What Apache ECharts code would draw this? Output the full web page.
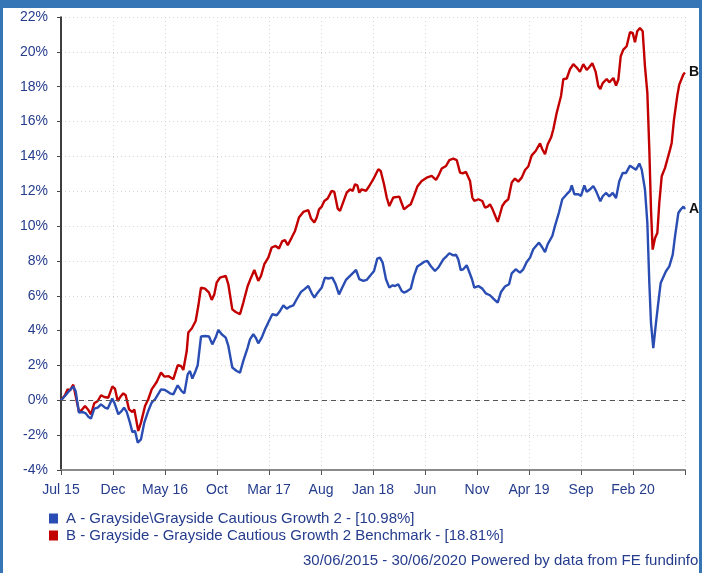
<!DOCTYPE html>
<html>
<head>
<meta charset="utf-8">
<script src="https://cdn.jsdelivr.net/npm/echarts@6/dist/echarts.min.js"></script>
<style>
  html, body { margin: 0; padding: 0; background: #ffffff; }
  #chart { width: 702px; height: 573px; }
</style>
</head>
<body>
<div id="chart"></div>
<script>
// Tick labels on the x axis (one every 5 months from Jul 2015)
const xTickLabels = ["Jul 15","Dec","May 16","Oct","Mar 17","Aug","Jan 18","Jun","Nov","Apr 19","Sep","Feb 20"];

// Series A: Grayside\Grayside Cautious Growth 2 (months since 30/06/2015, cumulative %)
const monthsA = [0,0.38,0.70,0.87,1.18,1.41,1.73,2.05,2.38,2.63,2.88,3.20,3.53,3.85,4.23,4.49,4.93,5.19,5.51,5.84,6.06,6.32,6.63,6.86,7.12,7.38,7.69,8.01,8.39,8.72,9.04,9.62,10.00,10.48,10.80,11.22,11.60,11.86,12.18,12.40,12.63,12.88,13.14,13.46,13.85,14.23,14.55,14.87,15.13,15.45,15.84,16.09,16.47,16.89,17.21,17.53,17.95,18.17,18.49,18.72,18.97,19.30,19.62,19.93,20.32,20.74,21.06,21.38,21.70,22.02,22.34,22.66,23.08,23.39,23.78,24.11,24.36,24.68,25.07,25.38,25.70,26.09,26.41,26.73,27.09,27.40,27.79,28.11,28.37,28.68,29.07,29.39,29.78,30.10,30.41,30.67,30.93,31.25,31.57,31.89,32.12,32.43,32.76,32.98,33.30,33.63,33.94,34.26,34.59,34.90,35.22,35.55,35.96,36.28,36.76,37.09,37.34,37.72,37.98,38.20,38.43,38.68,39.01,39.52,39.74,40.13,40.51,40.84,41.25,41.57,41.99,42.31,42.69,43.08,43.34,43.72,44.13,44.45,44.78,45.10,45.41,45.74,45.96,46.28,46.54,46.80,47.24,47.50,47.88,48.20,48.63,48.94,49.11,49.36,49.74,50.00,50.32,50.55,50.87,51.18,51.44,51.86,52.09,52.40,52.72,53.05,53.37,53.68,54.01,54.33,54.71,55.03,55.29,55.61,55.84,56.15,56.38,56.57,56.73,56.95,57.21,57.43,57.66,57.85,58.17,58.49,58.82,59.04,59.36,59.59,59.85,60];
const valuesA = [0,0.25,0.48,0.44,0.79,0.53,-0.71,-0.67,-0.75,-0.94,-1.05,-0.48,-0.42,-0.23,-0.42,-0.48,0.10,-0.23,-0.80,-0.61,-0.42,-0.67,-1.28,-1.82,-1.76,-2.43,-2.24,-1.28,-0.61,-0.13,0.06,0.63,0.59,0.40,0.34,0.86,0.53,0.40,1.49,1.68,1.25,1.59,2.01,3.66,3.69,3.66,3.21,3.60,4.04,3.79,3.60,3.12,1.88,1.68,1.59,2.26,3.03,3.50,3.79,3.60,3.27,3.60,4.08,4.46,4.94,4.88,5.13,5.45,5.26,5.38,5.45,5.80,6.22,6.37,6.56,6.14,5.90,6.18,6.47,7.04,6.99,7.04,6.66,6.08,6.53,6.91,7.14,7.33,7.48,6.95,6.85,6.91,7.19,7.42,8.13,8.19,7.90,6.95,6.47,6.60,6.56,6.66,6.27,6.18,6.27,6.41,7.14,7.68,7.81,7.94,8.00,7.71,7.42,7.62,8.09,8.28,8.44,8.32,8.36,8.09,7.48,7.52,7.75,6.95,6.47,6.56,6.41,6.14,6.03,5.84,5.61,6.22,6.53,6.66,7.29,7.52,7.33,7.52,7.94,8.19,8.67,8.90,9.05,8.77,8.51,8.96,9.43,10.01,10.78,11.54,11.83,12.02,12.34,11.83,11.83,11.73,12.34,11.96,12.11,12.30,12.02,11.42,11.71,11.90,11.71,11.90,11.61,12.57,13.05,13.05,13.47,13.34,13.24,13.59,13.24,12.10,10.18,6.73,4.44,3.00,4.44,5.59,6.73,6.83,7.41,7.69,8.36,9.41,10.75,10.95,11.12,10.98];

// Series B: Grayside Cautious Growth 2 Benchmark
const monthsB = [0,0.38,0.64,0.87,1.18,1.35,1.73,1.99,2.31,2.63,2.88,3.20,3.53,3.85,4.16,4.55,4.93,5.19,5.45,5.77,5.99,6.22,6.54,6.86,7.05,7.43,7.69,8.08,8.39,8.72,9.20,9.62,9.93,10.32,10.80,11.22,11.54,11.76,12.09,12.24,12.57,12.95,13.20,13.46,13.85,14.23,14.49,14.74,14.97,15.29,15.84,16.09,16.47,16.80,17.21,17.53,17.95,18.27,18.59,18.97,19.23,19.55,19.93,20.26,20.64,20.96,21.28,21.54,21.80,22.18,22.50,22.88,23.30,23.78,24.04,24.36,24.59,24.81,25.07,25.32,25.64,26.03,26.28,26.61,26.83,27.47,27.79,28.05,28.27,28.49,28.68,28.91,29.33,29.64,30.03,30.51,30.74,31.06,31.32,31.57,31.95,32.53,32.76,32.98,33.30,33.63,33.94,34.26,34.68,35.16,35.64,36.06,36.28,36.61,37.02,37.34,37.72,38.05,38.37,38.63,38.94,39.33,39.55,39.74,40.13,40.51,40.77,41.03,41.25,41.47,41.73,41.99,42.21,42.43,42.69,43.01,43.34,43.65,43.97,44.30,44.62,44.93,45.26,45.64,46.06,46.28,46.54,46.80,47.12,47.34,47.66,48.08,48.30,48.63,48.94,49.26,49.59,49.90,50.22,50.55,50.77,51.09,51.41,51.66,51.86,52.09,52.47,52.72,53.11,53.37,53.59,53.82,54.07,54.39,54.71,54.97,55.19,55.41,55.67,55.93,56.15,56.38,56.57,56.73,56.89,57.12,57.34,57.53,57.76,58.08,58.30,58.56,58.72,58.94,59.26,59.45,59.59,59.84,60];
const valuesB = [0,0.29,0.63,0.57,0.90,0.86,-0.67,-0.56,-0.33,-0.56,-0.80,-0.17,-0.04,0.29,0.19,0.15,0.79,0.67,-0.04,0.25,0.40,0.29,-0.52,-0.67,-0.52,-1.76,-1.28,-0.33,0.06,0.63,1.05,1.59,1.36,1.39,1.21,2.01,1.97,1.74,2.83,3.89,4.12,4.55,5.41,6.47,6.41,6.18,5.76,6.08,6.76,7.04,7.14,6.66,5.22,5.07,4.94,5.61,6.56,7.04,7.48,6.85,7.14,7.81,8.19,8.77,8.86,8.71,9.14,9.20,8.90,9.34,9.72,10.49,10.81,10.92,10.43,10.20,10.49,10.96,11.12,11.44,11.58,12.02,11.96,11.00,10.87,11.92,12.11,12.02,12.40,12.34,11.92,12.11,12.02,12.30,12.69,13.26,13.16,12.40,11.64,11.15,11.64,11.69,11.31,10.96,11.12,11.25,11.73,12.27,12.59,12.78,12.88,12.65,12.88,13.30,13.45,13.79,13.87,13.79,13.07,13.03,13.11,12.59,11.64,11.44,11.54,11.44,11.06,11.12,11.25,11.00,10.62,10.24,10.68,11.15,11.38,11.54,12.50,12.73,12.55,12.78,13.22,13.42,14.06,14.31,14.75,14.41,14.12,14.70,15.08,15.56,16.49,17.47,18.43,18.47,19.00,19.29,19.10,18.85,19.29,18.96,19.10,19.35,18.85,18.04,17.87,18.21,18.44,18.25,18.50,18.07,18.41,19.75,20.13,20.32,21.13,21.09,20.55,21.18,21.37,21.18,19.17,17.64,14.39,10.95,8.65,9.32,9.60,11.33,12.86,13.34,13.82,14.39,14.77,16.11,17.49,18.12,18.03,18.70,18.81];

const seriesNames = [
  "A - Grayside\\Grayside Cautious Growth 2 - [10.98%]",
  "B - Grayside - Grayside Cautious Growth 2 Benchmark - [18.81%]"
];
const endLetters = ["A", "B"];
const footerText = "30/06/2015 - 30/06/2020 Powered by data from FE fundinfo";

const colorA = "#2a4db3";
const colorB = "#c30000";
const textBlue = "#253c8d";
const frameBlue = "#3676b6";

const pairs = (xs, ys) => xs.map((x, i) => [x, ys[i]]);

const chart = echarts.init(document.getElementById('chart'), null, { renderer: 'canvas' });

chart.setOption({
  animation: false,
  backgroundColor: '#ffffff',
  textStyle: { fontFamily: 'Liberation Sans, Arial, sans-serif' },
  grid: { left: 61, right: 17, top: 17, bottom: 103, containLabel: false },
  legend: {
    orient: 'vertical',
    left: 44,
    top: 506,
    itemWidth: 9,
    itemHeight: 10,
    itemGap: 2,
    icon: 'rect',
    textStyle: { color: textBlue, fontSize: 15, padding: [0, 0, 0, 3] },
    data: seriesNames.map((n, i) => ({ name: n, itemStyle: { color: i ? colorB : colorA } }))
  },
  xAxis: {
    type: 'value',
    min: 0,
    max: 60,
    interval: 5,
    axisLine: { show: true, onZero: false, lineStyle: { color: '#8a8a8a', width: 2 } },
    axisTick: { show: true, length: 5, lineStyle: { color: '#555', width: 1 } },
    axisLabel: {
      color: textBlue,
      fontSize: 14,
      margin: 13,
      formatter: v => xTickLabels[Math.round(v / 5)] || ''
    },
    splitLine: { show: true, lineStyle: { color: '#d6d6d6', type: [1, 3], width: 1 } }
  },
  yAxis: {
    type: 'value',
    min: -4,
    max: 22,
    interval: 2,
    axisLine: { show: true, onZero: false, lineStyle: { color: '#000', width: 1.5 } },
    axisTick: { show: true, length: 4, lineStyle: { color: '#444' } },
    axisLabel: { color: textBlue, fontSize: 14, margin: 13, formatter: '{value}%' },
    splitLine: { show: true, lineStyle: { color: '#d6d6d6', type: [1, 3], width: 1 } }
  },
  series: [
    {
      name: seriesNames[0],
      type: 'line',
      data: pairs(monthsA, valuesA),
      showSymbol: false,
      symbol: 'none',
      smooth: false,
      color: colorA,
      lineStyle: { color: colorA, width: 2.4 },
      endLabel: { show: true, formatter: endLetters[0], color: '#111', fontWeight: 'bold', fontSize: 14, distance: 4 },
      markLine: {
        silent: true,
        symbol: 'none',
        label: { show: false },
        lineStyle: { color: '#555', type: [5, 4], width: 1.2 },
        data: [{ yAxis: 0 }]
      },
      z: 3
    },
    {
      name: seriesNames[1],
      type: 'line',
      data: pairs(monthsB, valuesB),
      showSymbol: false,
      symbol: 'none',
      smooth: false,
      color: colorB,
      lineStyle: { color: colorB, width: 2.4 },
      endLabel: { show: true, formatter: endLetters[1], color: '#111', fontWeight: 'bold', fontSize: 14, distance: 4 },
      z: 2
    }
  ],
  graphic: [
    { type: 'rect', left: 0, top: 0, shape: { width: 702, height: 8 }, style: { fill: frameBlue }, silent: true },
    { type: 'rect', left: 0, top: 0, shape: { width: 3, height: 573 }, style: { fill: frameBlue }, silent: true },
    { type: 'rect', left: 699, top: 0, shape: { width: 3, height: 573 }, style: { fill: frameBlue }, silent: true },
    {
      type: 'text', left: 303, top: 553,
      style: { text: footerText, fill: textBlue, font: '15px "Liberation Sans", Arial, sans-serif' },
      silent: true
    }
  ]
});
</script>
</body>
</html>
